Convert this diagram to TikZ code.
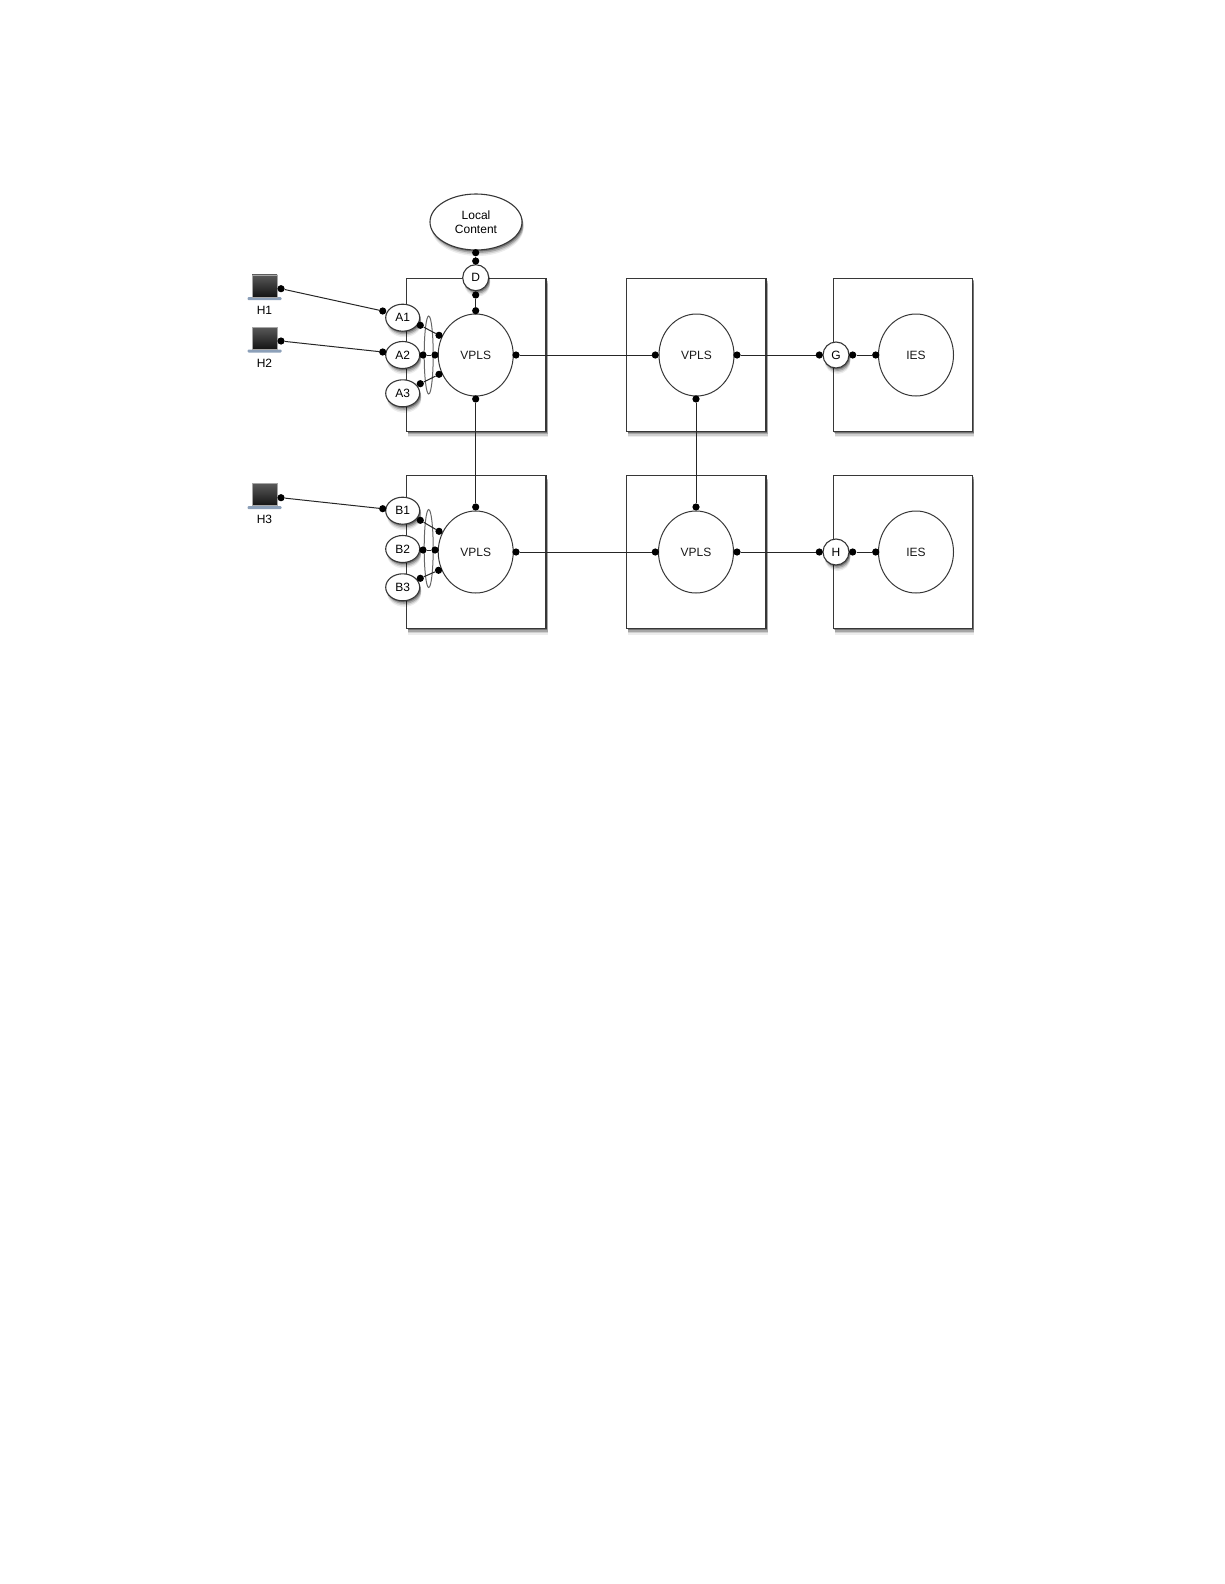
\documentclass[tikz,border=0pt]{standalone}
\usepackage{fontspec}
\setmainfont{Liberation Sans}
\usepackage{tikz}
\usetikzlibrary{positioning, shadows, shapes.geometric}
\definecolor{edge}{RGB}{55,55,55}
\definecolor{kbdblue}{RGB}{140,160,185}

\begin{document}
\begin{tikzpicture}[
      x=1pt, y=-1pt,
      softshadow/.style={general shadow={fill=black, opacity=.07, shadow xshift=1.5pt, shadow yshift=-6pt},
        general shadow={fill=black, opacity=.12, shadow xshift=1.5pt, shadow yshift=-4.5pt},
        general shadow={fill=black, opacity=.2, shadow xshift=1.5pt, shadow yshift=-3pt},
        general shadow={fill=black, opacity=.3, shadow xshift=1pt, shadow yshift=-1.5pt}},
      site/.style={rectangle, draw=edge, line width=1.2pt, fill=white, minimum width=139.5pt, minimum height=153pt, inner sep=0pt, softshadow},
      svc/.style={ellipse, draw=edge, line width=1pt, fill=white, minimum width=75pt, minimum height=82pt, inner sep=0pt, font=\fontsize{12}{14}\selectfont, text=black!90},
      sap/.style={ellipse, draw=edge, line width=1.1pt, fill=white, minimum width=34pt, minimum height=27pt, inner sep=0pt, font=\fontsize{12}{14}\selectfont, text=black, softshadow},
      port/.style={circle, draw=edge, line width=1.1pt, fill=white, minimum size=26pt, inner sep=0pt, font=\fontsize{12}{14}\selectfont, text=black, softshadow},
      lag/.style={ellipse, draw=black!60, line width=1pt, minimum width=9pt, minimum height=78pt, inner sep=0pt},
      dot/.style={circle, fill=black, minimum size=7.2pt, inner sep=0pt},
      wire/.style={draw=black!85, line width=1pt},
      screen/.style={rectangle, draw=black!35, line width=.5pt, top color=black!65, bottom color=black!92, minimum width=25pt, minimum height=22pt, inner sep=0pt},
      kbd/.style={rectangle, rounded corners=1pt, fill=kbdblue, minimum width=34pt, minimum height=3pt, inner sep=0pt},
      hostlabel/.style={font=\fontsize{12}{14}\selectfont, text=black, inner sep=0pt},
    ]
    \useasboundingbox (0,0) rectangle (1224,1584);
    % sites
    \node[site] (sa) at (476.3,354.7) {};
    \node[site] (sb) at (476.3,552) {};
    \node[site] (sc) at (696.3,354.7) {};
    \node[site] (sd) at (696.3,552) {};
    \node[site] (se) at (903,354.7) {};
    \node[site] (sf) at (903,552) {};
    % services
    \node[svc] (va) at (475.7,355) {VPLS};
    \node[svc] (vb) at (475.7,552) {VPLS};
    \node[svc] (vc) at (696.5,355) {VPLS};
    \node[svc] (vd) at (696,552) {VPLS};
    \node[svc] (ia) at (916,355) {IES};
    \node[svc] (ib) at (916,552) {IES};
    % lags
    \node[lag] (laga) at (428.7,355) {};
    \node[lag] (lagb) at (428.7,548.5) {};
    % saps
    \node[sap] (a1) at (402.7,317.7) {A1};
    \node[sap] (a2) at (402.7,355) {A2};
    \node[sap] (a3) at (402.7,393.3) {A3};
    \node[sap] (b1) at (402.7,510.7) {B1};
    \node[sap] (b2) at (402.7,549) {B2};
    \node[sap] (b3) at (402.7,587.3) {B3};
    \node[port] (d) at (475.7,277.7) {D};
    \node[port] (g) at (836,355) {G};
    \node[port] (h) at (836,552) {H};
    \node[ellipse, draw=edge, line width=1.1pt, fill=white, minimum width=92pt, minimum height=56pt, inner sep=0pt, align=center, font=\fontsize{12}{14}\selectfont, text=black, softshadow] (lc) at (476,222) {Local\\Content};
    % hosts
    \node[kbd] (k1) at (264.5,298.7) {};
    \node[screen, above=0pt of k1] (h1) {};
    \node[hostlabel, below=6pt of k1] (l1) {H1};
    \node[kbd] (k2) at (264.5,351) {};
    \node[screen, above=0pt of k2] (h2) {};
    \node[hostlabel, below=6pt of k2] (l2) {H2};
    \node[kbd] (k3) at (264.5,507.5) {};
    \node[screen, above=0pt of k3] (h3) {};
    \node[hostlabel, below=6pt of k3] (l3) {H3};
    % dots
    \node[dot] (d1) at (281,288.7) {};
    \node[dot] (d2) at (281,341) {};
    \node[dot] (d3) at (281,497.7) {};
    \node[dot] (a1w) at (382.7,311) {};
    \node[dot] (a2w) at (382.7,352) {};
    \node[dot] (b1w) at (382.7,508.7) {};
    \node[dot] (a1e) at (420.3,325.3) {};
    \node[dot] (a2e) at (423,355) {};
    \node[dot] (a3e) at (420.3,383.7) {};
    \node[dot] (va1) at (439,335.3) {};
    \node[dot] (va2) at (435,355) {};
    \node[dot] (va3) at (439,374.3) {};
    \node[dot] (b1e) at (420.3,520.3) {};
    \node[dot] (b2e) at (423,550) {};
    \node[dot] (b3e) at (420.3,578.3) {};
    \node[dot] (vb1) at (439,531.3) {};
    \node[dot] (vb2) at (435,550) {};
    \node[dot] (vb3) at (438.5,570.3) {};
    \node[dot] (lcs) at (475.7,252.7) {};
    \node[dot] (dn) at (475.7,261) {};
    \node[dot] (ds) at (475.7,295) {};
    \node[dot] (van) at (475.7,310.7) {};
    \node[dot] (vas) at (475.7,399) {};
    \node[dot] (vae) at (516,355) {};
    \node[dot] (vbn) at (475.7,507) {};
    \node[dot] (vbe) at (516,552) {};
    \node[dot] (vcw) at (655.3,355) {};
    \node[dot] (vce) at (737,355) {};
    \node[dot] (vcs) at (696,399) {};
    \node[dot] (vdw) at (655.3,552) {};
    \node[dot] (vde) at (737,552) {};
    \node[dot] (vdn) at (696,507) {};
    \node[dot] (gw) at (819.3,355) {};
    \node[dot] (ge) at (852.7,355) {};
    \node[dot] (iaw) at (875.7,355) {};
    \node[dot] (hw) at (819.3,552) {};
    \node[dot] (he) at (852.7,552) {};
    \node[dot] (ibw) at (875.7,552) {};
    % connectors
    \draw[wire] (d1) -- (a1w); \draw[wire] (d2) -- (a2w); \draw[wire] (d3) -- (b1w);
    \draw[wire] (a1e) -- (va1); \draw[wire] (a2e) -- (va2); \draw[wire] (a3e) -- (va3);
    \draw[wire] (b1e) -- (vb1); \draw[wire] (b2e) -- (vb2); \draw[wire] (b3e) -- (vb3);
    \draw[wire] (lcs) -- (dn); \draw[wire] (ds) -- (van);
    \draw[wire] (vas) -- (vbn); \draw[wire] (vcs) -- (vdn);
    \draw[wire] (vae) -- (vcw); \draw[wire] (vbe) -- (vdw);
    \draw[wire] (vce) -- (gw); \draw[wire] (vde) -- (hw);
    \draw[wire] (ge) -- (iaw); \draw[wire] (he) -- (ibw);
  \end{tikzpicture}
\end{document}
